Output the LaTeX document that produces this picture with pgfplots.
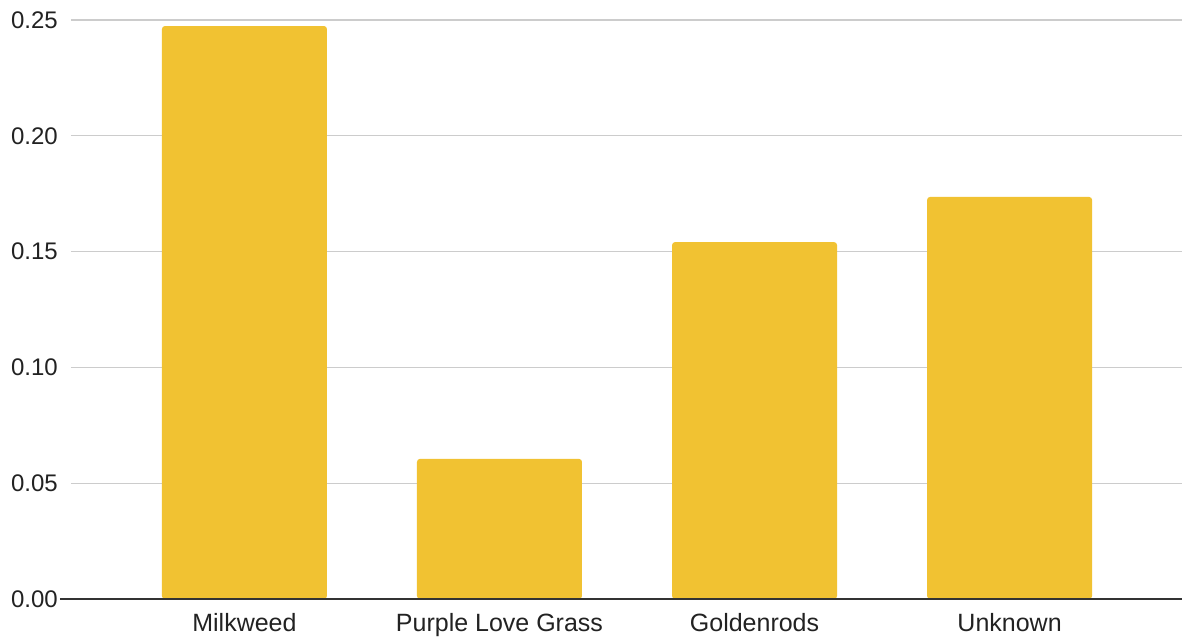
\documentclass[border=0pt]{standalone}
\usepackage{pgfplots}
\pgfplotsset{compat=1.18}
\usepackage{fontspec}
\setmainfont{Liberation Sans}
\definecolor{baryellow}{HTML}{F1C232}
\definecolor{txt}{HTML}{222222}
\definecolor{gridc}{HTML}{CCCCCC}
\definecolor{axisline}{HTML}{333333}
\begin{document}
\begin{tikzpicture}
\begin{axis}[
 scale only axis, width=1111pt, height=579pt,
 xmin=-0.68, xmax=3.676, ymin=0, ymax=0.25,
 axis line style={draw=none},
 ytick={0,0.05,0.1,0.15,0.2,0.25},
 yticklabels={0.00,0.05,0.10,0.15,0.20,0.25},
 ymajorgrids, grid style={gridc, line width=1.2pt},
 major tick length=0pt,
 xtick={0,1,2,3},
 xticklabels={Milkweed, Purple Love Grass, Goldenrods, Unknown},
 tick label style={text=txt, inner sep=0pt},
 yticklabel style={font=\fontsize{24}{28}\selectfont, anchor=east, xshift=-13pt},
 xticklabel style={font=\fontsize{25}{29}\selectfont, anchor=base, yshift=-32pt},
 clip=false,
]
\addplot[ybar, bar width=165pt, fill=baryellow, draw=none, bar shift=0pt, rounded corners=3pt] coordinates {(0,0.2474) (1,0.0605) (2,0.1541) (3,0.1736)};
\draw[axisline, line width=2.2pt] ([xshift=-11pt]rel axis cs:0,0) -- (rel axis cs:1,0);
\coordinate (bbl) at (rel axis cs:0,0);
\coordinate (btr) at (rel axis cs:1,1);
\end{axis}
\pgfresetboundingbox
\path ([shift={(-71pt,-43pt)}]bbl) rectangle ([shift={(0pt,20pt)}]btr);
\end{tikzpicture}
\end{document}
